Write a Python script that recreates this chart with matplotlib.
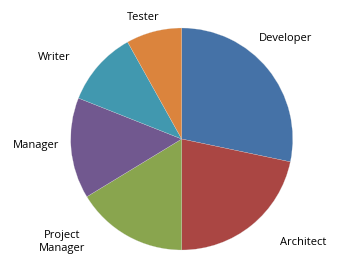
import matplotlib
matplotlib.use("Agg")
import matplotlib.pyplot as plt

# roles and their share
roles = ["Developer", "Architect", "Project\nManager", "Manager", "Writer", "Tester"]
shares = [28.3, 21.7, 16.3, 14.7, 10.9, 8.1]
colors = ["#4572A7", "#AA4643", "#89A54E", "#71588F", "#4198AF", "#DB843D"]

# label positions in pixels (x, y from top)
label_px = [(285.7, 39), (302.7, 242.7), (61.7, 241.7), (35.7, 145.7), (54, 57.7), (143.3, 17.7)]

W, H = 343, 273
fig = plt.figure(figsize=(W / 100, H / 100), dpi=100)
cx, cy, r = 181.7, 139, 111
ax = fig.add_axes([(cx - r) / W, (H - cy - r) / H, 2 * r / W, 2 * r / H])

ax.pie(shares, colors=colors, startangle=90, counterclock=False,
       wedgeprops=dict(edgecolor="#dddddd", linewidth=0.15))
ax.set_xlim(-1, 1)
ax.set_ylim(-1, 1)
ax.set_aspect("auto")
ax.axis("off")

for name, (x, y) in zip(roles, label_px):
    fig.text(x / W, 1 - y / H, name, ha="center", va="center",
             fontsize=8, family="Open Sans", color="#000000", linespacing=1.25)

fig.savefig("out.png", dpi=100)
